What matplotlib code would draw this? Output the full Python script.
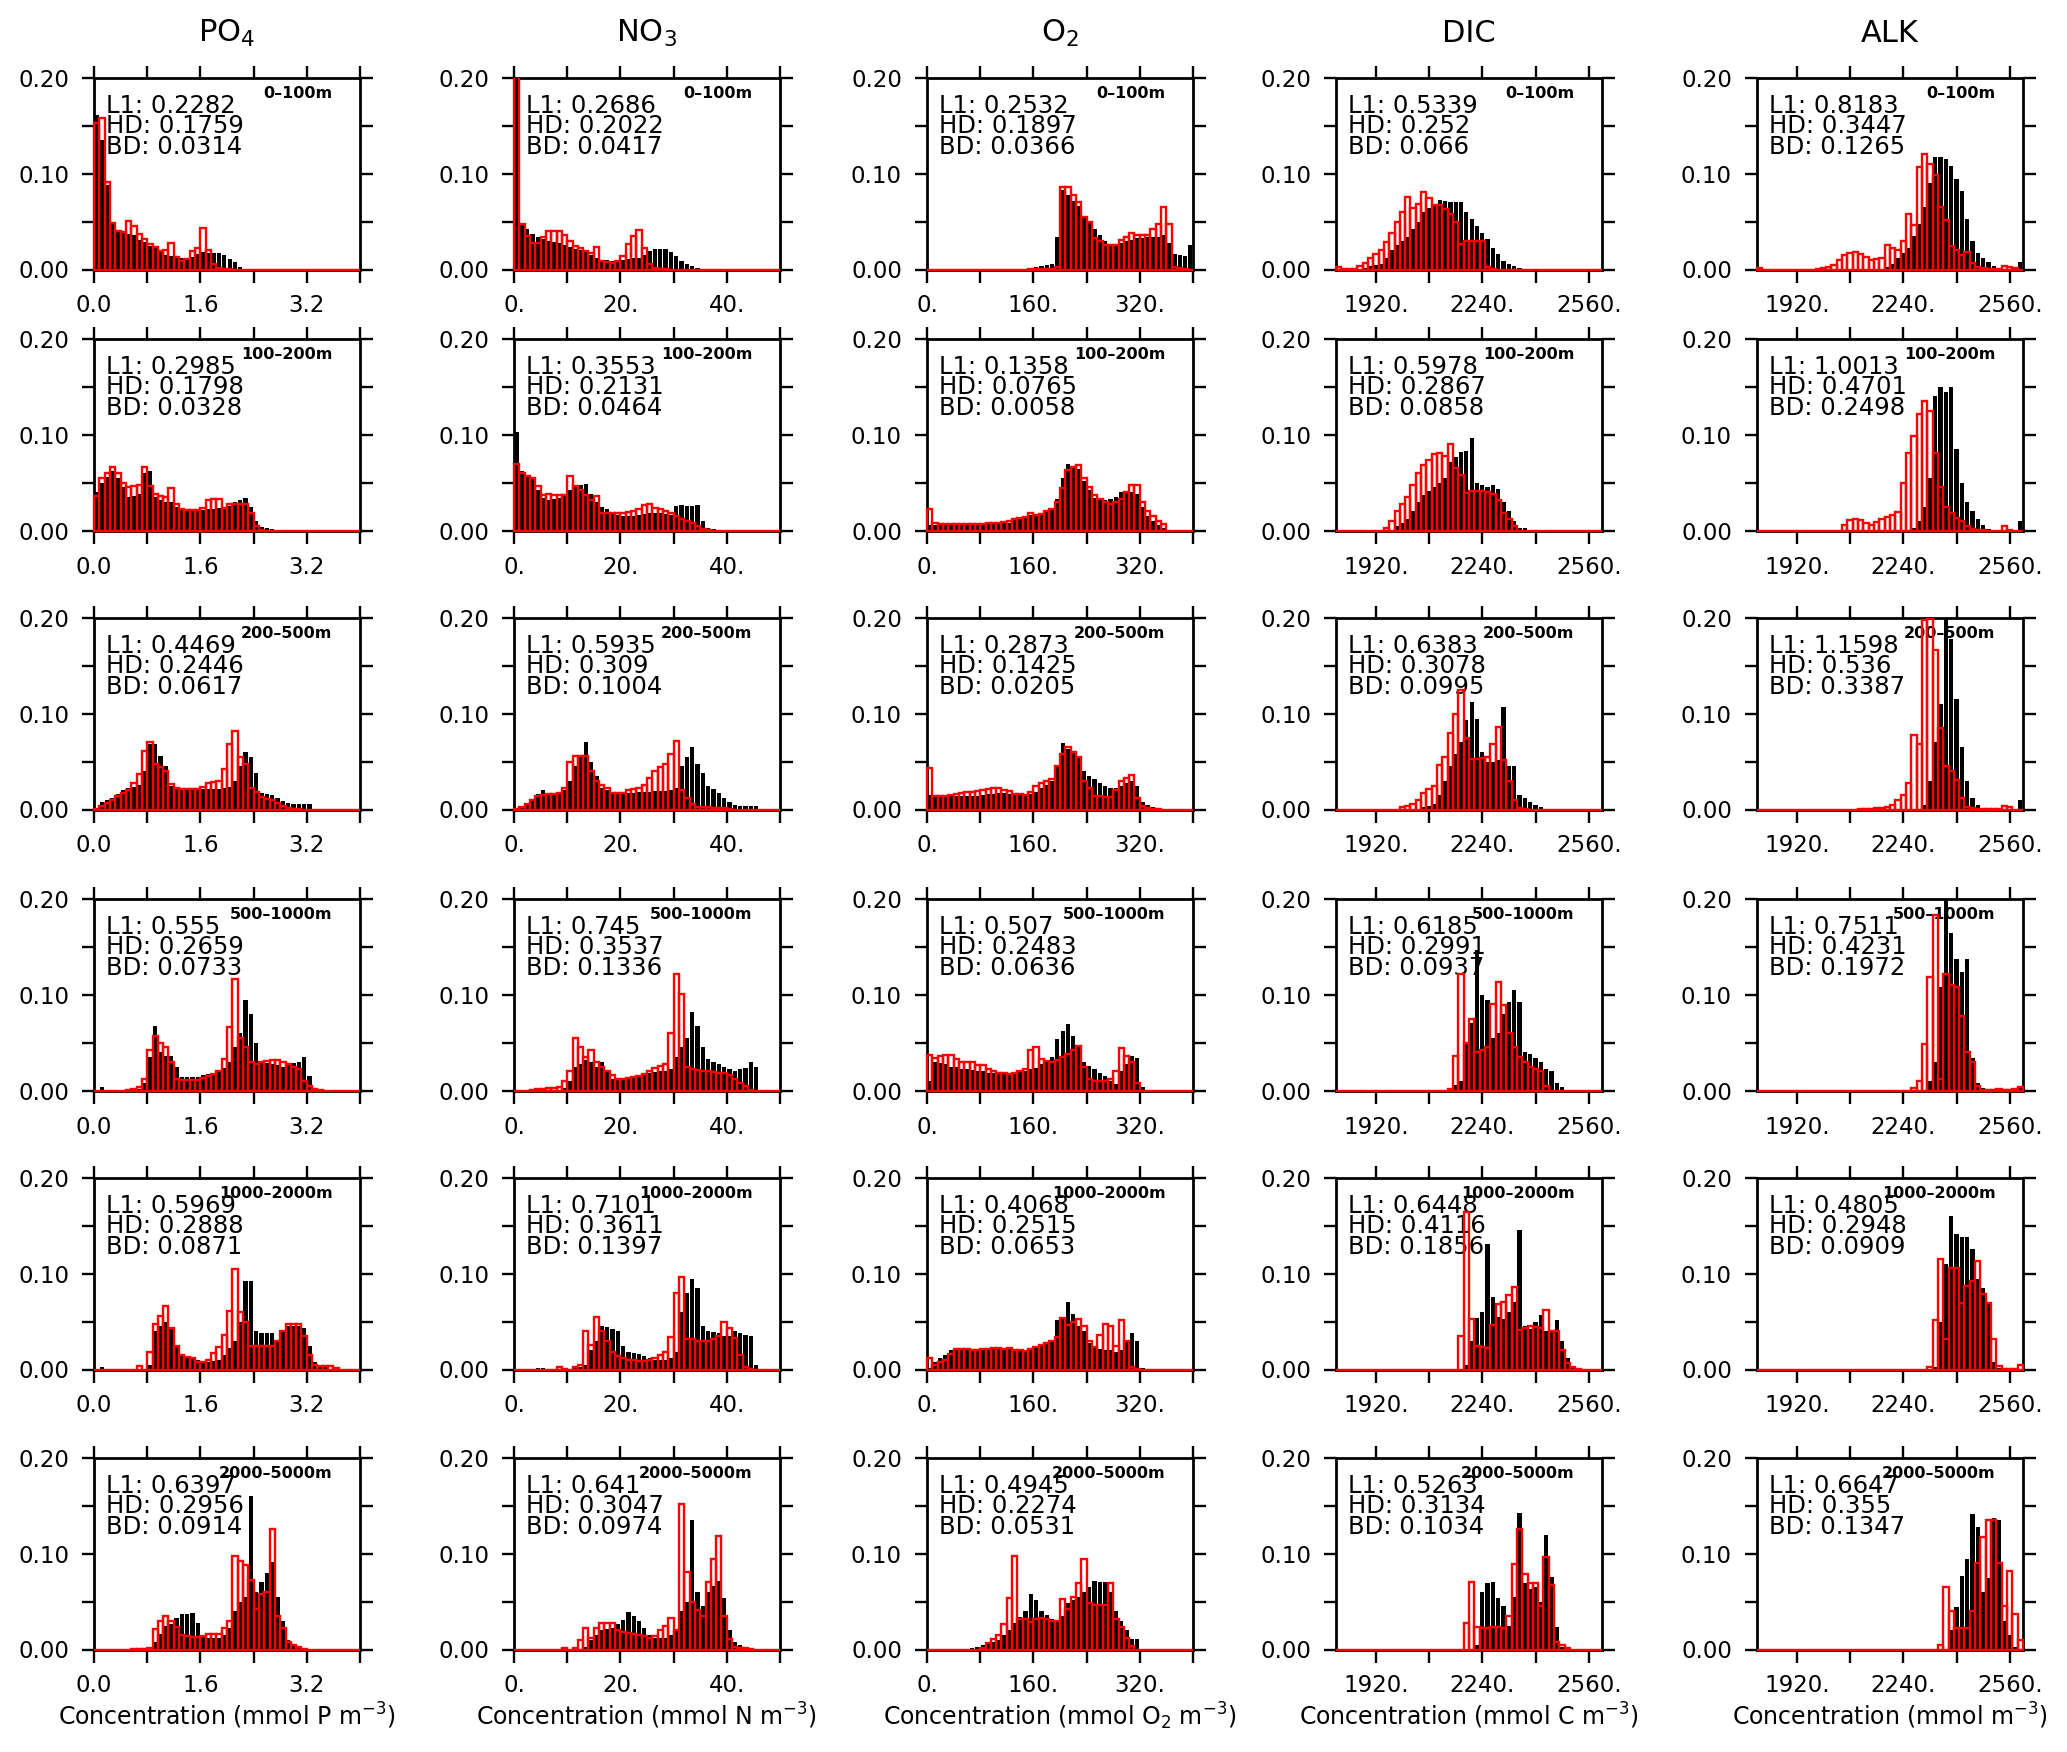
import numpy as np
import matplotlib.pyplot as plt
from matplotlib.transforms import Bbox, TransformedBbox

plt.rcParams['font.family'] = ['DejaVu Sans']

W, H = 2067, 1752

variables = ["PO$_4$", "NO$_3$", "O$_2$", "DIC", "ALK"]
depths = ["0–100m", "100–200m", "200–500m", "500–1000m", "1000–2000m", "2000–5000m"]
x_labels = ["Concentration (mmol P m$^{-3}$)", "Concentration (mmol N m$^{-3}$)",
            "Concentration (mmol O$_2$ m$^{-3}$)", "Concentration (mmol C m$^{-3}$)",
            "Concentration (mmol m$^{-3}$)"]
x_ranges = [(0, 4), (0, 50), (0, 400), (1800, 2600), (1800, 2600)]
x_major = [[0, 1.6, 3.2], [0, 20, 40], [0, 160, 320], [1920, 2240, 2560], [1920, 2240, 2560]]
x_major_labels = [["0.0", "1.6", "3.2"], ["0.", "20.", "40."], ["0.", "160.", "320."],
                  ["1920.", "2240.", "2560."], ["1920.", "2240.", "2560."]]
x_minor = [[0.8, 2.4, 4.0], [10, 30, 50], [80, 240, 400], [2080, 2400], [2080, 2400]]
y_major = [0, 0.1, 0.2]
y_major_labels = ["0.00", "0.10", "0.20"]
y_minor = [0.05, 0.15]
n_bins = 50

# bin fractions in thousandths, one list per depth layer (50 bins each)
# black = filled bars, red = outlined bars
po4_black = [
    [161,135,88,48,41, 39,37,36,31,29, 25,22,18,15,14, 13,12,11,13,16, 18,17,17,17,15, 11,8,3,1,0, 0,0,0,0,0, 0,0,0,0,0, 0,0,0,0,0, 0,0,0,0,0],
    [40,50,56,62,55, 45,35,36,38,60, 62,35,32,30,30, 25,22,21,20,20, 21,22,22,23,24, 26,30,32,34,25, 10,4,3,2,1, 0,0,0,0,0, 0,0,0,0,0, 0,0,0,0,0],
    [2,8,10,12,16, 20,22,24,26,40, 68,68,56,45,25, 22,22,22,22,22, 21,21,21,21,22, 23,30,45,60,55, 38,17,16,15,12, 9,7,6,6,6, 6,0,0,0,0, 0,0,0,0,0],
    [0,4,0,0,0, 0,0,1,2,8, 35,67,40,36,36, 25,14,14,14,14, 16,17,18,20,24, 30,45,60,95,80, 50,30,29,28,27, 25,28,29,30,35, 15,2,1,0,0, 0,0,0,0,0],
    [0,3,0,0,0, 0,0,0,0,0, 5,40,45,50,42, 25,15,14,13,10, 8,8,9,10,15, 22,30,50,92,92, 40,38,38,38,30, 40,45,45,45,43, 25,8,5,3,0, 0,0,0,0,0],
    [0,0,0,0,0, 0,0,0,0,0, 3,8,16,25,27, 33,37,37,38,28, 15,12,12,12,15, 22,40,50,55,160, 60,70,80,91,55, 30,10,6,3,1, 0,0,0,0,0, 0,0,0,0,0],
]
po4_red = [
    [153,158,91,49,40, 39,51,45,37,32, 27,24,19,20,28, 13,9,11,19,22, 43,20,6,2,1, 1,0,0,0,0, 0,0,0,0,0, 0,0,0,0,0, 0,0,0,0,0, 0,0,0,0,0],
    [36,55,60,66,60, 50,45,46,48,66, 46,38,36,35,44, 28,22,21,21,21, 23,32,33,33,24, 28,28,28,28,18, 5,1,0,0,0, 0,0,0,0,0, 0,0,0,0,0, 0,0,0,0,0],
    [1,4,7,10,14, 17,20,28,37,61, 70,47,44,40,27, 22,21,21,21,21, 23,28,29,30,42, 68,82,55,47,22, 18,13,11,10,7, 4,2,1,1,0, 0,0,0,0,0, 0,0,0,0,0],
    [0,0,0,0,0, 0,1,2,4,12, 42,57,50,45,30, 12,11,11,11,11, 13,15,17,20,33, 66,116,55,45,30, 28,30,31,32,32, 30,28,25,22,10, 5,2,1,0,0, 0,0,0,0,0],
    [0,0,0,0,0, 0,0,0,4,0, 18,47,56,66,43, 25,15,13,12,8, 8,10,17,24,36, 61,105,60,50,25, 25,25,25,25,30, 40,47,47,47,35, 15,5,4,4,4, 2,0,0,0,0],
    [0,0,0,0,0, 0,0,1,1,1, 2,21,30,35,30, 24,15,14,13,13, 14,16,16,16,22, 30,98,92,88,73, 42,58,60,126,35, 22,8,5,3,1, 0,0,0,0,0, 0,0,0,0,0],
]
no3_black = [
    [205,47,42,37,34, 32,30,29,28,26, 24,21,20,18,15, 12,10,10,9,9, 10,11,12,12,15, 19,21,21,21,18, 14,9,6,4,2, 1,0,0,0,0, 0,0,0,0,0, 0,0,0,0,0],
    [103,62,58,55,42, 34,32,33,34,36, 42,45,47,49,38, 30,25,22,18,16, 15,15,15,16,17, 18,18,18,17,16, 26,27,26,26,27, 10,3,2,1,0, 0,0,0,0,0, 0,0,0,0,0],
    [1,4,7,10,16, 20,17,17,17,20, 30,45,55,70,50, 35,22,20,18,17, 17,17,17,18,18, 18,19,19,19,20, 22,45,55,65,47, 38,25,21,17,12, 8,5,4,4,4, 4,0,0,0,0],
    [0,0,0,0,3, 0,0,0,0,3, 10,25,28,32,30, 25,30,20,12,12, 13,14,15,16,17, 18,19,20,20,22, 35,45,55,82,67, 45,33,30,28,25, 22,20,22,23,30, 25,0,0,0,0],
    [0,0,0,0,2, 2,1,0,0,0, 0,2,3,5,20, 30,45,44,42,40, 25,18,17,16,14, 12,10,10,10,12, 18,60,80,95,85, 45,40,39,38,35, 35,40,38,36,35, 5,0,0,0,0],
    [0,0,0,0,0, 1,0,0,0,0, 0,0,1,3,10, 15,20,21,22,27, 31,39,35,30,22, 15,12,12,12,15, 20,40,50,135,60, 45,60,66,72,54, 20,8,5,2,0, 0,0,0,0,0],
]
no3_red = [
    [250,48,35,28,28, 34,40,40,40,36, 30,25,22,19,17, 23,9,8,7,9, 14,27,35,41,22, 6,2,1,1,0, 0,0,0,0,0, 0,0,0,0,0, 0,0,0,0,0, 0,0,0,0,0],
    [69,60,57,55,46, 37,38,37,37,37, 57,46,42,37,32, 36,18,18,18,18, 18,19,20,22,27, 28,24,22,20,18, 15,12,10,8,5, 2,1,0,0,0, 0,0,0,0,0, 0,0,0,0,0],
    [1,3,6,10,14, 15,16,16,17,22, 50,56,56,56,40, 30,26,22,17,17, 17,20,21,22,26, 33,40,44,48,58, 72,20,12,6,3, 3,3,2,2,2, 1,0,0,0,0, 0,0,0,0,0],
    [0,0,0,1,2, 2,3,3,4,10, 20,55,45,35,42, 30,25,20,16,12, 12,13,14,15,17, 20,23,26,28,60, 122,101,25,22,21, 20,20,19,18,18, 16,12,8,5,1, 0,0,0,0,0],
    [0,0,0,0,0, 0,0,0,3,1, 0,3,5,40,26, 55,40,30,18,14, 12,10,10,9,9, 10,12,15,18,34, 80,97,32,32,30, 30,30,32,35,50, 43,33,15,3,1, 0,0,0,0,0],
    [0,0,0,0,0, 0,0,0,0,2, 0,2,10,22,12, 22,28,28,28,20, 18,17,16,15,14, 12,14,20,25,33, 20,152,81,50,41, 35,70,95,119,35, 11,3,2,2,1, 0,0,0,0,0],
]
o2_black = [
    [0,0,0,0,0, 0,0,0,0,0, 1,1,1,1,1, 1,1,1,1,2, 3,4,5,6,34, 83,78,72,66,56, 50,42,36,30,26, 25,28,30,31,33, 33,34,34,34,36, 28,16,15,14,26],
    [6,6,6,6,6, 6,6,6,6,6, 6,8,8,8,8, 8,12,13,14,16, 16,18,20,23,33, 55,69,66,64,52, 42,34,33,32,33, 35,40,40,40,38, 25,15,10,6,3, 0,0,0,0,0],
    [15,15,15,14,14, 14,14,14,14,14, 15,16,16,17,17, 16,15,15,15,16, 18,22,26,30,45, 69,63,60,55,40, 35,32,28,25,22, 22,25,28,30,25, 8,5,3,2,1, 0,0,0,0,0],
    [10,30,29,28,25, 25,22,22,21,20, 20,18,18,17,17, 17,18,19,20,22, 24,28,31,35,54, 62,69,57,45,30, 26,22,18,15,10, 7,20,28,36,34, 4,1,1,0,0, 0,0,0,0,0],
    [2,8,12,15,20, 22,22,22,21,21, 21,21,21,21,21, 21,21,21,20,20, 24,27,28,30,52, 55,71,58,45,40, 28,22,21,20,20, 18,20,30,38,30, 2,0,0,0,0, 0,0,0,0,0],
    [0,0,0,0,0, 0,0,1,2,3, 5,7,8,10,15, 20,28,34,40,58, 52,40,36,32,30, 35,49,52,55,60, 65,72,71,70,60, 40,30,20,11,11, 0,0,0,0,0, 0,0,0,0,0],
]
o2_red = [
    [0,0,0,0,0, 0,0,0,0,0, 0,0,0,0,0, 0,0,0,0,1, 1,1,1,1,3, 86,86,78,71,55, 50,33,30,26,26, 26,31,34,38,36, 36,36,42,47,65, 47,3,2,1,0],
    [22,8,7,7,7, 7,7,7,7,7, 7,8,8,8,9, 10,12,13,14,18, 16,17,20,22,30, 44,63,66,68,55, 45,37,33,30,28, 30,33,40,48,47, 30,20,15,10,7, 0,0,0,0,0],
    [43,14,14,14,15, 16,17,18,18,19, 20,21,22,22,20, 19,16,16,15,18, 25,28,30,32,45, 58,65,60,55,30, 22,14,14,13,13, 20,30,33,36,12, 4,2,1,1,0, 0,0,0,0,0],
    [37,34,36,37,37, 33,30,30,30,27, 27,22,20,18,18, 17,18,20,22,42, 45,33,31,30,32, 35,38,42,46,25, 12,10,10,10,12, 20,44,36,30,8, 0,0,0,0,0, 0,0,0,0,0],
    [12,5,8,10,16, 21,21,21,20,20, 21,21,22,22,21, 22,20,20,19,21, 24,26,28,30,34, 54,46,50,53,45, 30,24,36,48,45, 25,52,30,3,1, 0,0,0,0,0, 0,0,0,0,0],
    [0,0,0,0,0, 0,0,0,0,0, 2,7,11,15,27, 54,98,32,32,29, 32,33,32,30,30, 53,42,55,69,95, 49,46,46,46,69, 32,23,12,4,0, 0,0,0,0,0, 0,0,0,0,0],
]
dic_black = [
    [0,0,0,0,1, 2,4,5,6,12, 20,26,30,34,42, 50,60,64,67,73, 72,71,71,70,60, 53,45,38,32,22, 16,9,6,4,2, 1,0,0,0,0, 0,0,0,0,0, 0,0,0,0,0],
    [0,0,0,0,0, 0,0,0,0,0, 0,5,8,12,20, 30,37,41,45,50, 55,72,77,82,83, 97,50,48,45,48, 43,30,20,10,3, 3,0,0,0,0, 0,0,0,0,0, 0,0,0,0,0],
    [0,0,0,0,0, 0,0,0,0,0, 0,0,0,0,0, 0,3,4,6,15, 30,45,58,70,93, 112,94,60,50,50, 52,107,45,45,15, 12,8,5,3,1, 0,0,0,0,0, 0,0,0,0,0],
    [0,0,0,0,0, 0,0,0,0,0, 0,0,0,0,0, 0,0,0,0,0, 0,3,6,10,50, 70,147,100,94,55, 60,80,92,105,92, 40,38,34,30,22, 20,8,4,1,0, 0,0,0,0,0],
    [0,0,0,0,0, 0,0,0,0,0, 0,0,0,0,0, 0,0,0,0,0, 0,0,0,0,5, 30,54,60,131,76, 55,53,60,70,146, 45,42,50,57,40, 40,52,30,12,4, 2,0,0,0,0],
    [0,0,0,0,0, 0,0,0,0,0, 0,0,0,0,0, 0,0,0,0,0, 0,0,0,0,0, 0,5,60,69,70, 54,45,25,55,143, 69,63,65,50,120, 76,23,3,1,0, 0,0,0,0,0],
]
dic_red = [
    [3,1,1,1,4, 7,12,16,20,29, 38,50,60,76,64, 68,81,75,67,67, 63,58,50,27,30, 30,30,30,3,1, 0,0,0,0,0, 0,0,0,0,0, 0,0,0,0,0, 0,0,0,0,0],
    [0,0,0,0,0, 0,0,0,0,3, 10,20,28,35,47, 60,68,74,80,81, 78,90,65,58,39, 41,41,41,40,38, 32,18,12,5,0, 0,0,0,0,0, 0,0,0,0,0, 0,0,0,0,0],
    [0,0,0,0,0, 0,0,0,0,0, 0,0,3,4,6, 10,17,21,25,46, 55,80,100,125,75, 53,53,54,55,68, 86,52,30,10,2, 1,0,0,0,0, 0,0,0,0,0, 0,0,0,0,0],
    [0,0,0,0,0, 0,0,0,0,0, 0,0,0,0,0, 0,0,0,0,0, 0,2,36,122,50, 75,40,42,45,90, 113,89,60,45,35, 30,25,22,20,5, 0,0,0,0,0, 0,0,0,0,0],
    [0,0,0,0,0, 0,0,0,0,0, 0,0,0,0,0, 0,0,0,0,0, 0,0,0,35,165, 53,25,24,22,46, 68,71,78,86,41, 43,45,44,43,62, 40,40,20,7,3, 1,0,0,0,0],
    [0,0,0,0,0, 0,0,0,0,0, 0,0,0,0,0, 0,0,0,0,0, 0,0,0,0,28, 71,24,22,22,23, 23,22,35,89,126, 79,69,69,45,97, 67,8,5,2,0, 0,0,0,0,0],
]
alk_black = [
    [0,0,0,0,0, 0,0,0,0,0, 0,0,0,0,0, 0,0,0,0,0, 0,0,0,0,3, 6,12,17,22,35, 48,65,90,118,118, 115,108,95,82,53, 30,17,12,8,4, 2,1,1,1,8],
    [0,0,0,0,0, 0,0,0,0,0, 0,0,0,0,0, 0,0,0,0,0, 0,0,0,0,0, 0,0,0,0,3, 10,25,55,140,150, 145,150,85,50,30, 20,12,6,2,1, 0,0,0,0,10],
    [0,0,0,0,0, 0,0,0,0,0, 0,0,0,0,0, 0,0,0,0,0, 0,0,0,0,0, 0,0,0,0,0, 0,5,30,70,110, 205,178,115,65,30, 12,5,2,1,1, 0,0,0,0,10],
    [0,0,0,0,0, 0,0,0,0,0, 0,0,0,0,0, 0,0,0,0,0, 0,0,0,0,0, 0,0,0,0,0, 0,0,10,30,108, 210,165,137,124,137, 34,8,3,1,1, 1,1,1,1,5],
    [0,0,0,0,0, 0,0,0,0,0, 0,0,0,0,0, 0,0,0,0,0, 0,0,0,0,0, 0,0,0,0,0, 0,0,0,3,50, 110,160,141,138,138, 126,95,85,69,8, 2,0,0,0,0],
    [0,0,0,0,0, 0,0,0,0,0, 0,0,0,0,0, 0,0,0,0,0, 0,0,0,0,0, 0,0,0,0,0, 0,0,0,0,0, 0,20,44,77,95, 141,128,60,75,137, 135,30,15,3,0],
]
alk_red = [
    [2,0,0,0,0, 0,0,0,0,0, 0,1,2,3,5, 10,15,17,18,16, 13,10,11,12,26, 22,20,30,58,46, 107,121,110,99,65, 52,25,20,15,18, 7,3,2,1,1, 1,4,3,2,0],
    [0,0,0,0,0, 0,0,0,0,0, 0,0,0,0,0, 0,6,11,12,11, 8,6,9,12,14, 16,19,50,81,99, 122,135,125,81,45, 25,18,13,10,5, 2,1,1,0,0, 0,5,1,0,0],
    [0,0,0,0,0, 0,0,0,0,0, 0,0,0,0,0, 0,0,0,0,1, 1,1,2,2,3, 5,10,15,28,78, 68,198,200,167,85, 45,40,31,12,3, 2,1,1,1,1, 1,4,3,0,0],
    [0,0,0,0,0, 0,0,0,0,0, 0,0,0,0,0, 0,0,0,0,0, 0,0,0,0,0, 0,0,0,0,3, 10,49,119,183,12, 122,110,108,78,40, 30,5,1,1,1, 2,1,1,2,4],
    [0,0,0,0,0, 0,0,0,0,0, 0,0,0,0,0, 0,0,0,0,0, 0,0,0,0,0, 0,0,0,0,0, 0,0,3,52,115, 32,106,106,69,87, 92,113,79,69,32, 4,1,1,1,5],
    [0,0,0,0,0, 0,0,0,0,0, 0,0,0,0,0, 0,0,0,0,0, 0,0,0,0,0, 0,0,0,0,0, 0,0,0,0,5, 65,40,22,22,22, 40,90,118,135,135, 90,45,82,37,10],
]

# L1, HD, BD per depth layer
po4_stats = [("0.2282", "0.1759", "0.0314"), ("0.2985", "0.1798", "0.0328"), ("0.4469", "0.2446", "0.0617"),
             ("0.555", "0.2659", "0.0733"), ("0.5969", "0.2888", "0.0871"), ("0.6397", "0.2956", "0.0914")]
no3_stats = [("0.2686", "0.2022", "0.0417"), ("0.3553", "0.2131", "0.0464"), ("0.5935", "0.309", "0.1004"),
             ("0.745", "0.3537", "0.1336"), ("0.7101", "0.3611", "0.1397"), ("0.641", "0.3047", "0.0974")]
o2_stats = [("0.2532", "0.1897", "0.0366"), ("0.1358", "0.0765", "0.0058"), ("0.2873", "0.1425", "0.0205"),
            ("0.507", "0.2483", "0.0636"), ("0.4068", "0.2515", "0.0653"), ("0.4945", "0.2274", "0.0531")]
dic_stats = [("0.5339", "0.252", "0.066"), ("0.5978", "0.2867", "0.0858"), ("0.6383", "0.3078", "0.0995"),
             ("0.6185", "0.2991", "0.0937"), ("0.6448", "0.4116", "0.1856"), ("0.5263", "0.3134", "0.1034")]
alk_stats = [("0.8183", "0.3447", "0.1265"), ("1.0013", "0.4701", "0.2498"), ("1.1598", "0.536", "0.3387"),
             ("0.7511", "0.4231", "0.1972"), ("0.4805", "0.2948", "0.0909"), ("0.6647", "0.355", "0.1347")]

black = [po4_black, no3_black, o2_black, dic_black, alk_black]
red = [po4_red, no3_red, o2_red, dic_red, alk_red]
stats = [po4_stats, no3_stats, o2_stats, dic_stats, alk_stats]

# panel geometry in pixels
col_left = [94, 514, 927, 1336, 1757]
row_top = [78, 339, 618, 899, 1178, 1458]
ax_w, ax_h = 266, 191.5

fig = plt.figure(figsize=(W / 100, H / 100), dpi=100)

for c in range(5):
    lo, hi = x_ranges[c]
    edges = np.linspace(lo, hi, n_bins + 1)
    step = edges[1] - edges[0]
    cx = (col_left[c] + ax_w / 2) / W
    fig.text(cx, 1 - 42 / H, variables[c], ha='center', va='baseline', fontsize=22)
    fig.text(cx, 1 - 1725 / H, x_labels[c], ha='center', va='baseline', fontsize=17)
    for r in range(6):
        ax = fig.add_axes([col_left[c] / W, 1 - (row_top[r] + ax_h) / H, ax_w / W, ax_h / H])
        # clip bars at the top of the frame but let the zero line sit on the bottom spine
        clip = TransformedBbox(Bbox([[-0.02, -0.03], [1.02, 1.0]]), ax.transAxes)
        b = np.array(black[c][r]) / 1000
        rd = np.array(red[c][r]) / 1000
        bb = ax.bar(edges[:-1] + 0.1 * step, b, width=0.8 * step, align='edge',
                    color='black', linewidth=0, zorder=2)
        rb = ax.bar(edges[:-1], rd, width=step, align='edge', fill=False,
                    edgecolor='#ff0000', linewidth=1.7, zorder=3)
        for p in list(bb) + list(rb):
            p.set_clip_path(None)
            p.set_clip_box(clip)

        ax.set_xlim(lo, hi)
        ax.set_ylim(0, 0.2)
        ax.set_xticks(x_major[c])
        ax.set_xticklabels(x_major_labels[c])
        ax.set_xticks(x_minor[c], minor=True)
        ax.set_yticks(y_major)
        ax.set_yticklabels(y_major_labels)
        ax.set_yticks(y_minor, minor=True)
        ax.tick_params(which='both', direction='out', length=9, width=1.7,
                       top=True, right=True, labelsize=16.5, pad=9)
        for s in ax.spines.values():
            s.set_linewidth(2.0)

        l1, hd, bd = stats[c][r]
        ax.text(0.046, 0.919, f"L1: {l1}\nHD: {hd}\nBD: {bd}", transform=ax.transAxes,
                fontsize=17.5, ha='left', va='top', linespacing=0.84, zorder=1)
        ax.text(0.896, 0.895, depths[r], transform=ax.transAxes, fontsize=11.5,
                fontweight='bold', ha='right', va='baseline', zorder=1)

fig.savefig('out.png', dpi=100, facecolor='white')
